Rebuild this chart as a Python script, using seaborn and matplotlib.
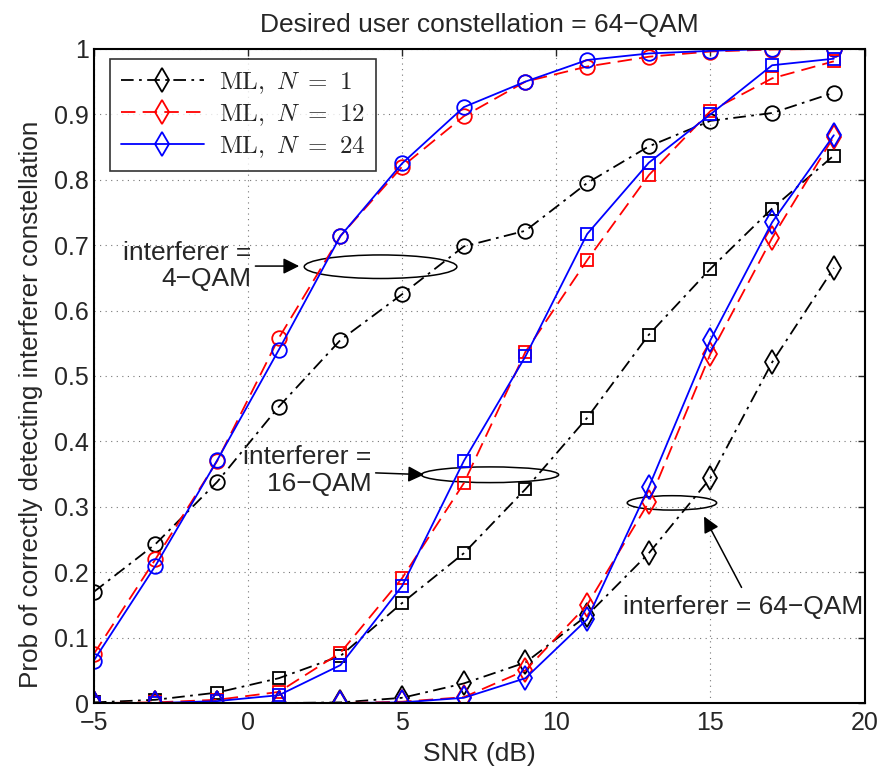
import numpy as np
import pandas as pd
import seaborn as sns
import matplotlib
matplotlib.use('Agg')
import matplotlib.pyplot as plt
from matplotlib.patches import Ellipse
from matplotlib.lines import Line2D

snr = [-5, -3, -1, 1, 3, 5, 7, 9, 11, 13, 15, 17, 19]

# interferer = 4-QAM (circles)
qam4_n1 = [0.170, 0.243, 0.338, 0.453, 0.555, 0.625, 0.698, 0.722, 0.795, 0.851, 0.890, 0.902, 0.933]
qam4_n12 = [0.075, 0.220, 0.370, 0.558, 0.714, 0.820, 0.897, 0.950, 0.973, 0.988, 0.996, 0.999, 1.000]
qam4_n24 = [0.065, 0.210, 0.371, 0.540, 0.714, 0.825, 0.911, 0.950, 0.983, 0.993, 0.997, 1.000, 1.000]

# interferer = 16-QAM (squares)
qam16_n1 = [0.001, 0.005, 0.016, 0.038, 0.072, 0.153, 0.229, 0.327, 0.436, 0.563, 0.664, 0.756, 0.837]
qam16_n12 = [0.000, 0.001, 0.005, 0.017, 0.077, 0.191, 0.336, 0.537, 0.677, 0.807, 0.905, 0.955, 0.981]
qam16_n24 = [0.000, 0.000, 0.003, 0.012, 0.058, 0.179, 0.370, 0.530, 0.717, 0.826, 0.900, 0.975, 0.985]

# interferer = 64-QAM (diamonds)
qam64_n1 = [0.000, 0.000, 0.000, 0.000, 0.001, 0.008, 0.030, 0.062, 0.134, 0.229, 0.344, 0.521, 0.665]
qam64_n12 = [0.000, 0.000, 0.000, 0.000, 0.000, 0.002, 0.009, 0.050, 0.150, 0.307, 0.534, 0.711, 0.866]
qam64_n24 = [0.000, 0.000, 0.000, 0.000, 0.000, 0.001, 0.008, 0.038, 0.128, 0.330, 0.555, 0.735, 0.868]

labels = [r'$\mathrm{ML},\ N\ =\ 1$', r'$\mathrm{ML},\ N\ =\ 12$', r'$\mathrm{ML},\ N\ =\ 24$']

sns.set_style('white')
plt.rcParams['font.family'] = ['Liberation Sans', 'DejaVu Sans']
plt.rcParams['mathtext.fontset'] = 'cm'
plt.rcParams['axes.unicode_minus'] = True

fig = plt.figure(figsize=(8.85, 7.76), dpi=100)
ax = fig.add_axes([0.106, 0.094, 0.871, 0.843])

styles = [
    dict(color='black', dashes=(7, 3, 1.5, 3)),
    dict(color='red', dashes=(8, 4)),
    dict(color='blue', dashes=()),
]
groups = [('o', [qam4_n1, qam4_n12, qam4_n24]),
          ('s', [qam16_n1, qam16_n12, qam16_n24]),
          ('D', [qam64_n1, qam64_n12, qam64_n24])]

for marker, series in groups:
    for st, vals in zip(styles, series):
        ms = 10.5 if marker == 'o' else 8.5
        line_kws = dict(color=st['color'], marker=marker, markersize=ms,
                        markerfacecolor='none', markeredgecolor=st['color'],
                        markeredgewidth=1.3, linewidth=1.3)
        sns.lineplot(x=snr, y=vals, ax=ax, legend=False, **line_kws)
        ln = ax.lines[-1]
        if st['dashes']:
            ln.set_dashes(st['dashes'])
        if marker == 'D':
            ln.set_marker('d')
            ln.set_markersize(12)

ax.set_xlim(-5, 20)
ax.set_ylim(0, 1)
ax.set_xticks([-5, 0, 5, 10, 15, 20])
ax.set_yticks(np.arange(0, 1.01, 0.1))
ax.set_yticklabels(['0', '0.1', '0.2', '0.3', '0.4', '0.5', '0.6', '0.7', '0.8', '0.9', '1'])
ax.tick_params(direction='in', top=True, right=True, labelsize=18, length=5, width=1)
ax.tick_params(axis='x', pad=6)
ax.grid(True, linestyle=(0, (1, 4)), color='#777777', linewidth=0.8)
for sp in ax.spines.values():
    sp.set_linewidth(1.5)
    sp.set_color('black')

ax.set_xlabel('SNR (dB)', fontsize=19, labelpad=5)
ax.set_ylabel('Prob of correctly detecting interferer constellation', fontsize=18.8)
ax.yaxis.set_label_coords(-0.066, 0.456)
ax.set_title('Desired user constellation = 64\u2212QAM', fontsize=19, pad=12)

# annotations
ax.add_patch(Ellipse((4.3, 0.667), 4.95, 0.036, fill=False, color='black', lw=1.1))
ax.annotate('', xy=(1.75, 0.668), xytext=(0.15, 0.668),
            arrowprops=dict(arrowstyle='-|>', color='black', lw=1.1, mutation_scale=24))
ax.text(0.1, 0.668, 'interferer =\n4\u2212QAM', ha='right', va='center', fontsize=19,
        linespacing=1.15, multialignment='right')

ax.add_patch(Ellipse((7.85, 0.349), 4.45, 0.024, fill=False, color='black', lw=1.1))
ax.annotate('', xy=(5.8, 0.349), xytext=(4.05, 0.352),
            arrowprops=dict(arrowstyle='-|>', color='black', lw=1.1, mutation_scale=24))
ax.text(4.0, 0.355, 'interferer =\n16\u2212QAM', ha='right', va='center', fontsize=19,
        linespacing=1.15, multialignment='right')

ax.add_patch(Ellipse((13.75, 0.306), 2.9, 0.022, fill=False, color='black', lw=1.1))
ax.annotate('', xy=(14.75, 0.289), xytext=(16.05, 0.173),
            arrowprops=dict(arrowstyle='-|>', color='black', lw=1.1, mutation_scale=24))
ax.text(19.95, 0.147, 'interferer = 64\u2212QAM', ha='right', va='center', fontsize=19)

handles = [Line2D([], [], color=st['color'], marker='d', markersize=12,
                  markerfacecolor='none', markeredgewidth=1.3, lw=1.3)
           for st in styles]
for h, st in zip(handles, styles):
    if st['dashes']:
        h.set_dashes(st['dashes'])
leg = ax.legend(handles, labels, loc='upper left', bbox_to_anchor=(0.021, 0.985),
                borderaxespad=0, fontsize=18, frameon=True, fancybox=False,
                edgecolor='black', handlelength=3.3, borderpad=0.45,
                labelspacing=0.25, handletextpad=0.6)
leg.get_frame().set_linewidth(1.2)

fig.savefig('out.png', dpi=100)
